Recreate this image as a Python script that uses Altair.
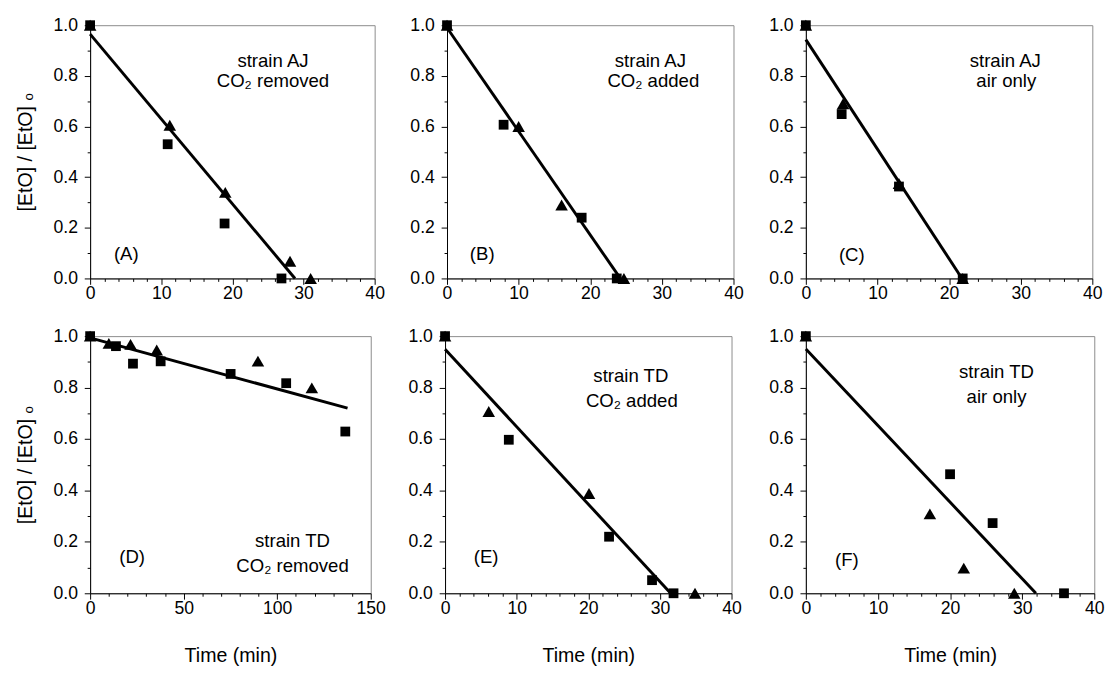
import altair as alt
import pandas as pd

FONT = "Liberation Sans"

# ---------------- data ----------------
# (A) strain AJ, CO2 removed
A_SQ_X = [0, 10.9, 18.9, 26.9]
A_SQ_Y = [1.0, 0.53, 0.217, 0.0]
A_TR_X = [0, 11.2, 19.0, 28.1, 31.0]
A_TR_Y = [1.0, 0.605, 0.34, 0.068, 0.0]
A_FIT_X = [0, 28.8]
A_FIT_Y = [0.965, 0.0]

# (B) strain AJ, CO2 added
B_SQ_X = [0, 7.9, 18.8, 23.7]
B_SQ_Y = [1.0, 0.607, 0.24, 0.0]
B_TR_X = [0, 10.0, 16.0, 24.7]
B_TR_Y = [1.0, 0.60, 0.29, 0.0]
B_FIT_X = [0, 24.2]
B_FIT_Y = [0.99, 0.0]

# (C) strain AJ, air only
C_SQ_X = [0, 5.0, 13.0, 21.9]
C_SQ_Y = [1.0, 0.649, 0.363, 0.0]
C_TR_X = [0, 5.2, 13.0, 21.9]
C_TR_Y = [1.0, 0.69, 0.375, 0.0]
C_FIT_X = [0, 21.8]
C_FIT_Y = [0.943, 0.0]

# (D) strain TD, CO2 removed
D_SQ_X = [0, 13.8, 22.9, 37.7, 75.1, 104.8, 136.4]
D_SQ_Y = [1.0, 0.961, 0.893, 0.902, 0.853, 0.817, 0.629]
D_TR_X = [0, 10.0, 21.6, 35.6, 89.7, 118.5]
D_TR_Y = [1.0, 0.972, 0.968, 0.946, 0.903, 0.799]
D_FIT_X = [0, 137.6]
D_FIT_Y = [0.993, 0.720]

# (E) strain TD, CO2 added
E_SQ_X = [0, 8.9, 22.9, 28.9, 31.9]
E_SQ_Y = [1.0, 0.597, 0.220, 0.051, 0.0]
E_TR_X = [0, 6.1, 20.1, 34.9]
E_TR_Y = [1.0, 0.707, 0.388, 0.0]
E_FIT_X = [0, 31.5]
E_FIT_Y = [0.949, 0.0]

# (F) strain TD, air only
F_SQ_X = [0, 20.0, 25.9, 35.8]
F_SQ_Y = [1.0, 0.463, 0.273, 0.0]
F_TR_X = [0, 17.2, 21.9, 28.9]
F_TR_Y = [1.0, 0.309, 0.098, 0.0]
F_FIT_X = [0, 31.9]
F_FIT_Y = [0.95, 0.0]

X40_TICKS = [0, 2, 4, 6, 8, 10, 12, 14, 16, 18, 20, 22, 24, 26, 28, 30,
             32, 34, 36, 38, 40]
X150_TICKS = [0, 10, 20, 30, 40, 50, 60, 70, 80, 90, 100, 110, 120, 130, 140, 150]
Y_TICKS = [0.0, 0.1, 0.2, 0.3, 0.4, 0.5, 0.6, 0.7, 0.8, 0.9, 1.0]

Y_TITLE = "[EtO] / [EtO] \u2092"
X_TITLE = "Time (min)"


def panel(sx, sy, tx, ty, fx, fy, xmax, xticks, xmajor, texts, w, h,
          y_title=False, x_title=False):
    sq = pd.DataFrame({"t": sx, "v": sy})
    tr = pd.DataFrame({"t": tx, "v": ty})
    fit = pd.DataFrame({"t": fx, "v": fy})

    xaxis = alt.Axis(
        values=xticks,
        tickCount=100,
        labelExpr=f"datum.value % {xmajor} === 0 ? format(datum.value, 'd') : ''",
        tickSize={"condition": {"test": f"datum.value % {xmajor} === 0", "value": 6}, "value": 3},
        title=X_TITLE if x_title else None,
        labelPadding=1,
        titlePadding=29,
        labelOverlap=False,
        labelFlush=False,
    )
    yaxis = alt.Axis(
        values=Y_TICKS,
        tickCount=100,
        labelExpr="abs(round(datum.value*5) - datum.value*5) < 1e-6 ? format(datum.value, '.1f') : ''",
        tickSize={"condition": {"test": "abs(round(datum.value*5) - datum.value*5) < 1e-6", "value": 6}, "value": 3},
        title=Y_TITLE if y_title else None,
        labelPadding=7,
        titlePadding=18,
        labelOverlap=False,
    )
    xs = alt.Scale(domain=[0, xmax], nice=False, zero=False)
    ys = alt.Scale(domain=[0, 1], nice=False, zero=False)

    line = alt.Chart(fit).mark_line(color="black", strokeWidth=3).encode(
        x=alt.X("t:Q", scale=xs, axis=xaxis),
        y=alt.Y("v:Q", scale=ys, axis=yaxis),
    )
    squares = alt.Chart(sq).mark_point(shape="square", filled=True, size=100,
                                         color="black", opacity=1).encode(
        x="t:Q", y="v:Q")
    tris = alt.Chart(tr).mark_point(shape="triangle-up", filled=True, size=165,
                                      color="black", opacity=1).encode(
        x="t:Q", y="v:Q")
    layers = [line, tris, squares]
    for txt, px, py in texts:
        layers.append(
            alt.Chart(pd.DataFrame({"a": [0]})).mark_text(
                text=txt, font=FONT, fontSize=19, color="black",
                align="center", baseline="middle").encode(
                x=alt.value(px), y=alt.value(py))
        )
    return alt.layer(*layers).properties(width=w, height=h)


pA = panel(A_SQ_X, A_SQ_Y, A_TR_X, A_TR_Y, A_FIT_X, A_FIT_Y, 40, X40_TICKS, 10,
           [("strain AJ", 187, 37), ("CO\u2082 removed", 187, 57), ("(A)", 37, 234)],
           291, 259, y_title=True)
pB = panel(B_SQ_X, B_SQ_Y, B_TR_X, B_TR_Y, B_FIT_X, B_FIT_Y, 40, X40_TICKS, 10,
           [("strain AJ", 208, 37), ("CO\u2082 added", 211, 57), ("(B)", 36, 234)],
           293, 259)
pC = panel(C_SQ_X, C_SQ_Y, C_TR_X, C_TR_Y, C_FIT_X, C_FIT_Y, 40, X40_TICKS, 10,
           [("strain AJ", 204, 37), ("air only", 205, 57), ("(C)", 47, 235)],
           293, 259)
pD = panel(D_SQ_X, D_SQ_Y, D_TR_X, D_TR_Y, D_FIT_X, D_FIT_Y, 150, X150_TICKS, 50,
           [("strain TD", 207, 210), ("CO\u2082 removed", 207, 235), ("(D)", 43, 226)],
           287, 263, y_title=True, x_title=True)
pE = panel(E_SQ_X, E_SQ_Y, E_TR_X, E_TR_Y, E_FIT_X, E_FIT_Y, 40, X40_TICKS, 10,
           [("strain TD", 190, 41), ("CO\u2082 added", 191, 66), ("(E)", 42, 226)],
           293, 263, x_title=True)
pF = panel(F_SQ_X, F_SQ_Y, F_TR_X, F_TR_Y, F_FIT_X, F_FIT_Y, 40, X40_TICKS, 10,
           [("strain TD", 195, 37), ("air only", 195, 62), ("(F)", 42, 229)],
           295, 263, x_title=True)

top = alt.hconcat(alt.hconcat(pA, pB, spacing=24), pC, spacing=24)
bottom = alt.hconcat(alt.hconcat(pD, pE, spacing=21), pF, spacing=26)

chart = alt.vconcat(top, bottom, spacing=23).properties(
    padding={"left": 7, "top": 0, "right": 2, "bottom": 2},
    background="white",
).configure_view(
    stroke="#8a8a8a", strokeWidth=1
).configure_axis(
    labelFont=FONT, labelFontSize=18, labelColor="black",
    titleFont=FONT, titleFontSize=20, titleFontWeight="normal", titleColor="black",
    domainColor="black", domainWidth=1, tickColor="black", tickWidth=1,
    grid=False, labelFlush=False, labelOverlap=False,
)

chart.save("out.html", embed_options={"renderer": "svg", "actions": False})
